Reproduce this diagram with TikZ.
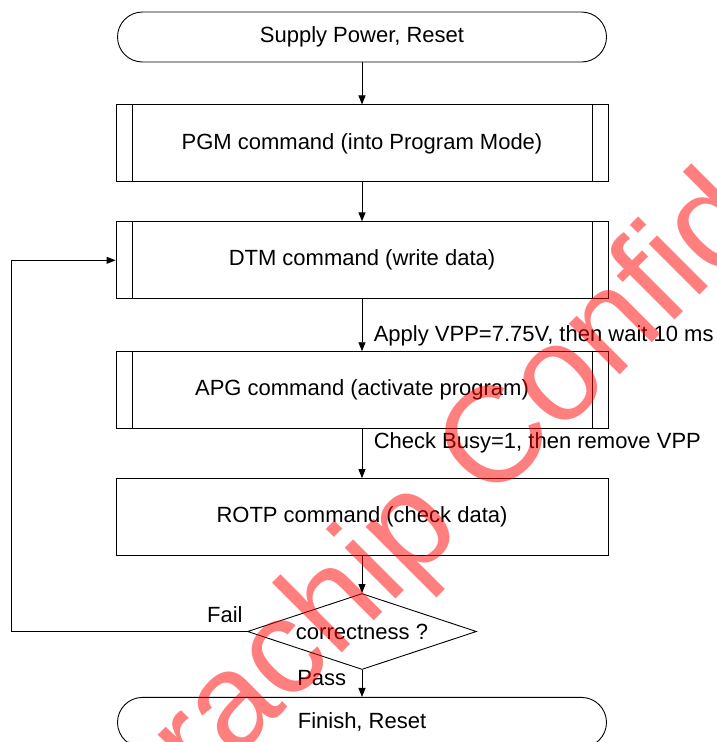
\documentclass[tikz,border=0pt]{standalone}
\usepackage{fontspec}
\setmainfont{Liberation Sans}
\usetikzlibrary{positioning,shapes,arrows.meta}

\begin{document}
\begin{tikzpicture}[%
        x=1pt, y=1pt,
        ->,
        >={Triangle[length=9pt,width=7pt]},
        line width=0.9pt,
        node distance=40pt,
        font=\fontsize{22}{26}\selectfont,
        terminal/.style={%
          rectangle,
          rounded corners=25pt,
          minimum width=489pt,
          minimum height=50pt,
          draw
        },
        process/.style={%
          rectangle,
          minimum width=492pt,
          minimum height=77pt,
          draw,
          path picture={%
            \draw[-] ([xshift=16pt]path picture bounding box.north west) -- ([xshift=16pt]path picture bounding box.south west)
              ([xshift=-16pt]path picture bounding box.north east) -- ([xshift=-16pt]path picture bounding box.south east);
          }
        },
        plainbox/.style={%
          rectangle,
          minimum width=492pt,
          minimum height=77pt,
          draw
        },
        decision/.style={%
          diamond,
          aspect=3,
          inner sep=0pt,
          minimum width=229pt,
          minimum height=76pt,
          draw
        },
        watermark/.style={%
          font=\fontsize{136}{142}\selectfont,
          text=red,
          text opacity=0.5,
          inner sep=0pt,
          rotate=45,
          anchor=base west
        }
      ]
      \useasboundingbox (0,0) rectangle (716,-742);

      \node[terminal] (1) at (362,-37) {Supply Power, Reset};
      \node[process] (2) [below=42pt of 1] {PGM command (into Program Mode)};
      \node[process] (3) [below=39pt of 2] {DTM command (write data)};
      \node[process] (4) [below=52pt of 3] {APG command (activate program)};
      \node[plainbox] (5) [below=49pt of 4] {ROTP command (check data)};
      \node[decision] (6) [below=37pt of 5] {correctness ?};
      \node[terminal] (7) [below=27pt of 6] {Finish, Reset};

      \path (1) edge [] node {} (2)
      (2) edge [] node {} (3)
      (3) edge [] node [right, pos=0.7, xshift=8pt] {Apply VPP=7.75V, then wait 10 ms} (4)
      (4) edge [] node [right, pos=0.27, xshift=8pt] {Check Busy=1, then remove VPP} (5)
      (5) edge [] node {} (6)
      (6) edge [] node [left, pos=0.3, xshift=-12pt] {Pass} (7);

      \draw (6.west) node [above left, inner sep=4pt, yshift=4pt] {Fail} -- ++(-236,0) |- (3.west);

      % watermark
      \node[watermark] (w) at (175,-820) {trachip Confid};
    \end{tikzpicture}
\end{document}
